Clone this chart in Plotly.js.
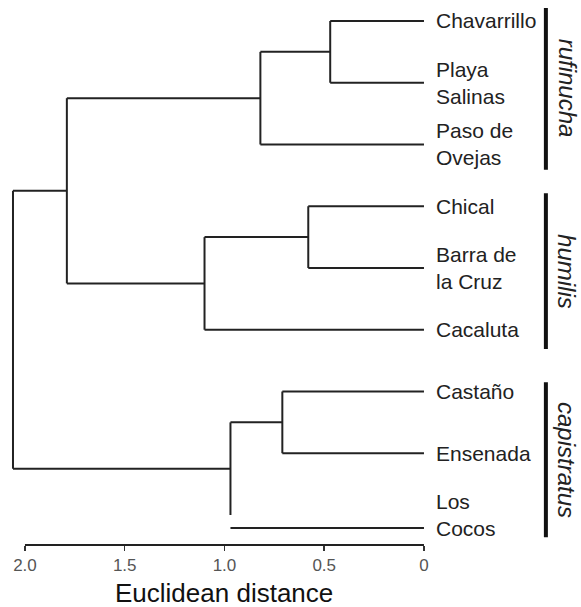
<!DOCTYPE html>
<html>
<head>
<meta charset="utf-8">
<script src="https://cdn.plot.ly/plotly-3.0.1.min.js"></script>
<style>html,body{margin:0;padding:0;background:#fff;}#chart{width:581px;height:607px;}</style>
</head>
<body>
<div id="chart"></div>
<script>
// ---- data ----
var leaves = ['Chavarrillo', 'Playa<br>Salinas', 'Paso de<br>Ovejas', 'Chical', 'Barra de<br>la Cruz', 'Cacaluta', 'Castaño', 'Ensenada', 'Los<br>Cocos'];
var leafPos = [1, 2, 3, 4, 5, 6, 7, 8, 9];
var leafLineY = [1, 2, 3, 4, 5, 6, 7, 8, 9.21]; // Los Cocos branch drawn slightly lower in the original
// linkage: [childA, childB, distance]; indices >= 9 refer to earlier merges
var mergeA = [0, 9, 3, 11, 10, 6, 14, 13];
var mergeB = [1, 2, 4, 5, 12, 7, 8, 15];
var mergeDist = [0.47, 0.82, 0.58, 1.10, 1.79, 0.71, 0.97, 2.06];
var groupNames = ['rufinucha', 'humilis', 'capistratus'];
var groupStart = [0.79, 3.79, 6.85];
var groupEnd = [3.41, 6.31, 9.36];
var groupMid = [2.08, 5.05, 8.11];
var tickVals = [2.0, 1.5, 1.0, 0.5, 0];
var tickText = ['2.0', '1.5', '1.0', '0.5', '0'];

// ---- build dendrogram segments ----
var n = leaves.length;
var nodeY = leafPos.slice();
var nodeH = leafPos.map(function () { return 0; });
var xs = [], ys = [];
function seg(x0, y0, x1, y1) { xs.push(x0, x1, null); ys.push(y0, y1, null); }
for (var i = 0; i < mergeDist.length; i++) {
  var a = mergeA[i], b = mergeB[i], h = mergeDist[i];
  [a, b].forEach(function (c) {
    var yl = c < n ? leafLineY[c] : nodeY[c];
    seg(nodeH[c], yl, h, yl);
  });
  seg(h, nodeY[a], h, nodeY[b]);
  nodeY.push((nodeY[a] + nodeY[b]) / 2);
  nodeH.push(h);
}

var font = 'Liberation Sans, Arial, sans-serif';
var annotations = leaves.map(function (t, i) {
  return { x: 0, y: leafPos[i], xref: 'x', yref: 'y', text: t, showarrow: false,
    xanchor: 'left', yanchor: 'middle', align: 'left', xshift: 10,
    font: { family: font, size: 21, color: '#222' } };
});
groupNames.forEach(function (g, i) {
  annotations.push({ x: -0.717, y: groupMid[i], xref: 'x', yref: 'y', text: '<i>' + g + '</i>',
    showarrow: false, textangle: 90, xanchor: 'center', yanchor: 'middle',
    font: { family: font, size: 24, color: '#222' } });
});
annotations.push({ x: 1.0, y: -0.088, xref: 'x', yref: 'paper', text: 'Euclidean distance',
  showarrow: false, xanchor: 'center', yanchor: 'middle',
  font: { family: font, size: 26, color: '#111' } });

var shapes = [{ type: 'line', xref: 'x', yref: 'paper', x0: tickVals[0], x1: tickVals[tickVals.length - 1], y0: 0, y1: 0,
  line: { color: '#222', width: 2 } }];
groupNames.forEach(function (g, i) {
  shapes.push({ type: 'line', xref: 'x', yref: 'y', x0: -0.611, x1: -0.611, y0: groupStart[i], y1: groupEnd[i],
    line: { color: '#111', width: 4 } });
});

var trace = { type: 'scatter', mode: 'lines', x: xs, y: ys, connectgaps: false,
  line: { color: '#222', width: 2 }, hoverinfo: 'skip', showlegend: false };

var layout = {
  width: 581, height: 607,
  margin: { l: 9, r: 0, t: 0, b: 62 },
  paper_bgcolor: '#fff', plot_bgcolor: '#fff',
  showlegend: false,
  xaxis: { range: [2.08, -0.787], tickvals: tickVals, ticktext: tickText, ticks: 'outside', ticklen: 5,
    tickwidth: 1.5, tickcolor: '#333', showgrid: false, zeroline: false, showline: false,
    tickfont: { family: font, size: 17, color: '#555' } },
  yaxis: { range: [9.486, 0.66], visible: false, showgrid: false, zeroline: false },
  annotations: annotations,
  shapes: shapes
};
Plotly.newPlot('chart', [trace], layout, { staticPlot: true });
</script>
</body>
</html>
